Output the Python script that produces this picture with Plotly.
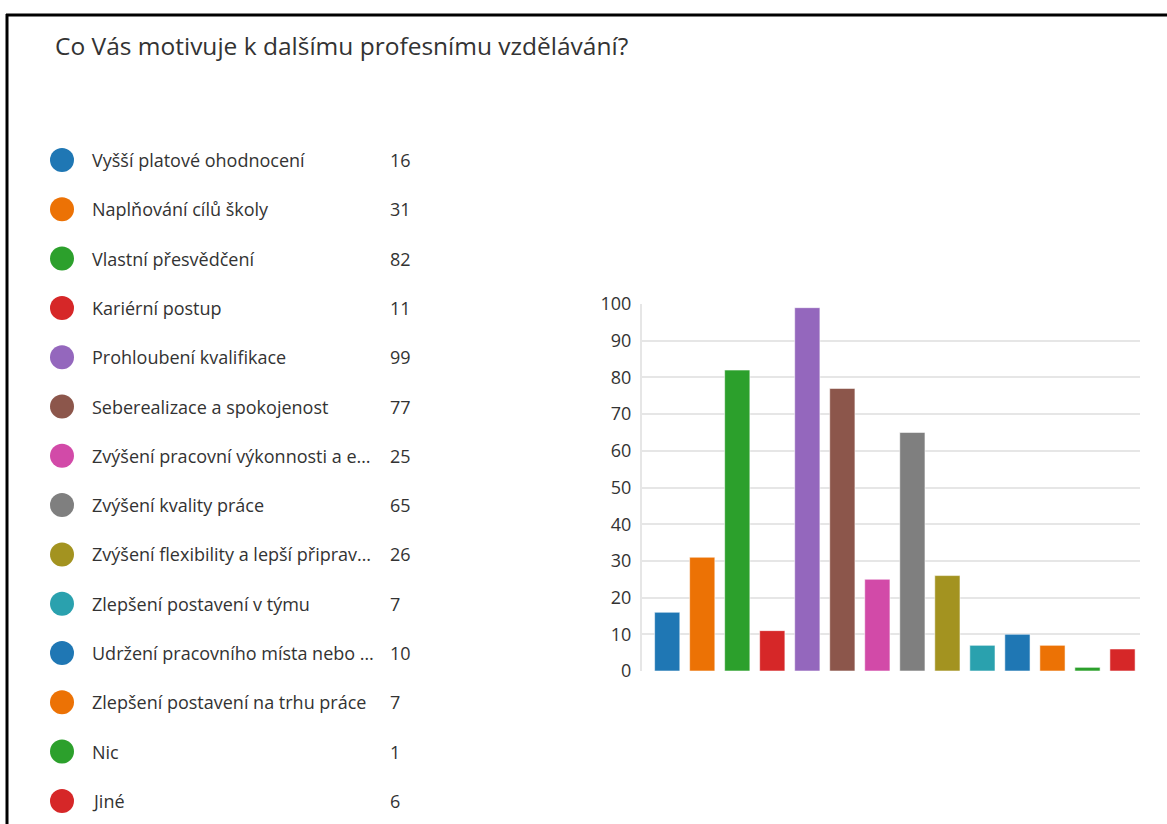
import plotly.graph_objects as go

title = "Co Vás motivuje k dalšímu profesnímu vzdělávání?"
categories = [
    "Vyšší platové ohodnocení",
    "Naplňování cílů školy",
    "Vlastní přesvědčení",
    "Kariérní postup",
    "Prohloubení kvalifikace",
    "Seberealizace a spokojenost",
    "Zvýšení pracovní výkonnosti a e…",
    "Zvýšení kvality práce",
    "Zvýšení flexibility a lepší připrav…",
    "Zlepšení postavení v týmu",
    "Udržení pracovního místa nebo …",
    "Zlepšení postavení na trhu práce",
    "Nic",
    "Jiné",
]
values = [16, 31, 82, 11, 99, 77, 25, 65, 26, 7, 10, 7, 1, 6]
colors = ["#1f77b4", "#ec7205", "#2ca02c", "#d62728", "#9467bd", "#8c564b",
          "#d24aa8", "#7f7f7f", "#a39320", "#2aa1ae", "#1f77b4", "#ec7205",
          "#2ca02c", "#d62728"]
y_ticks = [0, 10, 20, 30, 40, 50, 60, 70, 80, 90, 100]

FONT = "Open Sans, Noto Sans, sans-serif"
TXT = "#333333"

fig = go.Figure()
idx = list(range(len(categories)))

fig.add_trace(go.Bar(
    x=idx, y=values,
    marker=dict(color=colors, line=dict(color="rgba(255,255,255,0.55)", width=1)),
    showlegend=False, hoverinfo="y",
))

# legend drawn on a second, hidden axis pair
fig.add_trace(go.Scatter(
    x=[62] * len(categories), y=idx, mode="markers",
    marker=dict(color=colors, size=24, line=dict(width=0)),
    xaxis="x2", yaxis="y2", showlegend=False, hoverinfo="skip",
))

annotations = []
for i, (c, v) in enumerate(zip(categories, values)):
    annotations.append(dict(x=90, y=i, xref="x2", yref="y2", text=c, showarrow=False,
                            xanchor="left", yanchor="middle",
                            font=dict(family=FONT, size=18, color=TXT)))
    annotations.append(dict(x=388, y=i, xref="x2", yref="y2", text=str(v), showarrow=False,
                            xanchor="left", yanchor="middle",
                            font=dict(family=FONT, size=18, color=TXT)))
annotations.append(dict(x=53 / 1167, y=1 - 45 / 824, xref="paper", yref="paper", text=title,
                        showarrow=False, xanchor="left", yanchor="middle",
                        font=dict(family=FONT, size=24.5, color=TXT)))

step = 49.3
y2_top = -160 / step
y2_bot = (824 - 160) / step

fig.update_layout(
    width=1167, height=824,
    margin=dict(l=0, r=0, t=0, b=0, autoexpand=False),
    paper_bgcolor="white", plot_bgcolor="rgba(0,0,0,0)",
    bargap=0.28,
    xaxis=dict(domain=[642 / 1167, 1140 / 1167], range=[-0.72, len(categories) - 0.5],
               showticklabels=False, showgrid=False, zeroline=False, showline=False,
               fixedrange=True),
    yaxis=dict(domain=[(824 - 671) / 824, (824 - 304) / 824], range=[0, 100],
               tickvals=y_ticks, showgrid=True, gridcolor="#e6e6e6", gridwidth=1.5,
               zeroline=False, showline=True, linecolor="#e6e6e6", linewidth=2,
               ticks="outside", ticklen=5, tickcolor="rgba(0,0,0,0)",
               tickfont=dict(family=FONT, size=18, color=TXT), fixedrange=True),
    xaxis2=dict(domain=[0, 1], range=[0, 1167], anchor="y2", visible=False, fixedrange=True),
    yaxis2=dict(domain=[0, 1], range=[y2_bot, y2_top], anchor="x2", visible=False, fixedrange=True),
    annotations=annotations,
    shapes=[
        dict(type="line", xref="paper", yref="paper", x0=6 / 1167, x1=1, y0=1 - 15 / 824, y1=1 - 15 / 824,
             line=dict(color="black", width=3)),
        dict(type="line", xref="paper", yref="paper", x0=7 / 1167, x1=7 / 1167, y0=0, y1=1 - 14 / 824,
             line=dict(color="black", width=3)),
    ],
)

fig.write_html("out.html")
